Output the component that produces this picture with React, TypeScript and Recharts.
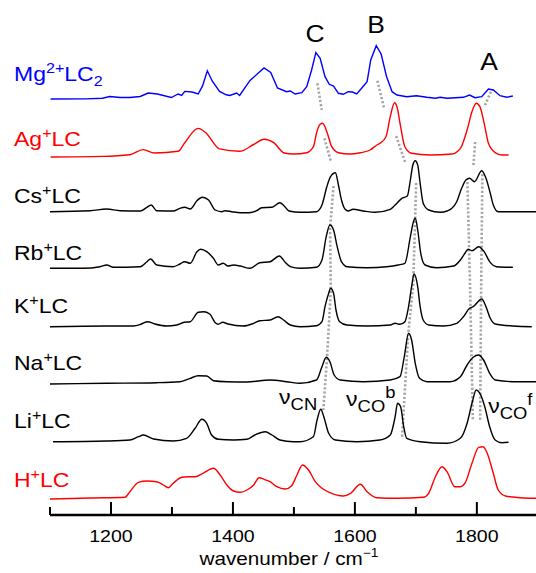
import React from 'react';
import { LineChart, Line, XAxis, YAxis, ReferenceDot } from 'recharts';

const FONT = '"Liberation Sans", Arial, Helvetica, sans-serif';
const STRETCH = 1.15;

type Pt = [number, number];

// spectra: [wavenumber (cm-1), intensity above baseline (arb. units)]
const mgSpectrum: Pt[] = [[1101,-2],[1158,-1.9],[1186,-1.2],[1198,0.5],[1215,-0.5],[1231,-0.5],[1248,0.5],[1261,4],[1276,3],[1299,-0.5],[1310,3],[1316,1.5],[1321,5.6],[1333,5],[1343,3],[1350,10.8],[1358,26.2],[1366,16],[1378,5.6],[1389,2.2],[1395,1.5],[1406,4],[1411,1.5],[1428,16.6],[1451,29],[1462,24.5],[1473,9],[1488,5.3],[1494,6],[1502,3],[1513,4.3],[1521,10.3],[1529,27],[1536,44.3],[1543,38.7],[1551,20.3],[1558,12.7],[1565,11],[1573,3.7],[1581,2.7],[1589,5.3],[1596,5],[1603,3],[1611,8.7],[1620,15.3],[1626,37],[1635,51.3],[1643,43],[1652,20.3],[1661,5.3],[1669,2],[1685,0.3],[1701,1.3],[1718,-0.3],[1732,-1.3],[1740,-0.3],[1751,-1.3],[1778,-0.3],[1788,2],[1797,-0.7],[1808,0.3],[1819,8],[1827,7],[1838,1.3],[1849,-0.3],[1859,1]];
const agSpectrum: Pt[] = [[1101,-3],[1186,-2.4],[1231,-0.7],[1253,4.4],[1271,1],[1310,2.7],[1321,11.3],[1343,25.6],[1355,21.5],[1378,5.1],[1411,2.7],[1434,9.5],[1451,14.7],[1467,11.3],[1484,1],[1499,0],[1521,1.3],[1532,7.3],[1537,20.7],[1543,29.7],[1547,30.7],[1554,22.3],[1562,7.3],[1573,1.3],[1592,0],[1609,1.3],[1625,4],[1636,9],[1641,10.7],[1651,17.3],[1658,37.3],[1665,51.3],[1669,47.3],[1675,27.3],[1682,7.3],[1693,0.7],[1723,-1],[1759,0],[1773,5.7],[1784,24],[1792,42.3],[1799,50.7],[1805,47.3],[1812,30.7],[1819,10.7],[1830,1.3],[1841,-1],[1852,-1]];
const csSpectrum: Pt[] = [[1100,0.3],[1166,1.3],[1193,3],[1215,1.3],[1248,1],[1259,4.7],[1266,7],[1275,1.3],[1302,1],[1313,3.7],[1321,4.7],[1330,3],[1341,11.3],[1350,14.7],[1360,12],[1371,2],[1382,0.3],[1387,1.3],[1398,0.3],[1412,-0.7],[1426,-0.7],[1439,1.3],[1447,4.3],[1464,4.7],[1477,9.3],[1484,6],[1492,1],[1510,-0.3],[1537,0.3],[1546,7],[1554,25.3],[1560,35.3],[1568,39.3],[1573,27],[1578,12],[1584,2.7],[1589,1],[1597,2.7],[1614,1],[1633,-0.3],[1658,2.7],[1666,7],[1677,13.7],[1686,16],[1691,32],[1695,47],[1699,51.3],[1703,47],[1707,28.7],[1712,8.7],[1721,2],[1740,-0.3],[1751,1],[1759,3.7],[1767,10.3],[1775,23.7],[1782,32],[1788,33.7],[1796,30.3],[1808,41.3],[1815,33.7],[1822,18.7],[1827,7],[1835,0.3],[1860,0.3],[1897,0.3]];
const rbSpectrum: Pt[] = [[1100,-0.8],[1155,-0.8],[1182,0.8],[1193,2.5],[1204,0.2],[1248,0.8],[1259,5.8],[1265,8.5],[1275,2.5],[1302,0.8],[1313,3.5],[1321,5.8],[1330,4.2],[1341,15.8],[1347,18.2],[1357,15.8],[1368,9.2],[1376,2.5],[1384,4.2],[1392,1.5],[1401,2.5],[1412,1.5],[1428,-0.8],[1444,4.8],[1461,5.8],[1476,11.5],[1486,5],[1494,0.8],[1510,-0.8],[1537,0.2],[1546,7.5],[1553,30.8],[1559,42.5],[1565,37.5],[1571,20.8],[1578,5.8],[1587,0.8],[1620,-0.2],[1652,0.8],[1671,2.5],[1682,4.2],[1691,30.8],[1696,45.8],[1699,49.2],[1703,37.5],[1708,14.2],[1715,2.5],[1734,-0.2],[1762,1.5],[1773,7.5],[1781,14.8],[1786,18.2],[1792,16.8],[1803,20.8],[1812,15.8],[1821,5.8],[1832,0.8],[1859,0.2]];
const kSpectrum: Pt[] = [[1100,-0.7],[1193,0],[1237,0],[1250,2],[1260,4.3],[1272,2],[1291,0],[1308,1],[1320,3.7],[1330,4.3],[1343,13.7],[1352,14.3],[1362,12],[1371,3.3],[1376,1.7],[1383,3.7],[1392,2],[1417,0],[1434,2.7],[1444,5.3],[1461,6],[1474,9.3],[1483,6],[1494,1],[1510,-0.7],[1537,0.3],[1546,4.3],[1551,19.3],[1557,32.7],[1560,37.7],[1565,32.7],[1569,16],[1575,4.3],[1587,1],[1620,0],[1658,1],[1666,2.7],[1674,1.7],[1682,4.3],[1688,19.3],[1693,39.3],[1697,52],[1703,39.3],[1707,19.3],[1712,6],[1721,1],[1745,0],[1767,2.7],[1778,9.3],[1788,17.7],[1794,19.3],[1808,27],[1815,19.3],[1822,7.7],[1830,2],[1860,0],[1890,-0.7]];
const naSpectrum: Pt[] = [[1100,-2],[1193,-1.3],[1275,-0.7],[1313,0.3],[1330,3.7],[1343,6.3],[1357,6],[1368,1.3],[1390,0.3],[1423,0],[1461,2],[1488,0.3],[1510,-1.3],[1537,2],[1546,15.3],[1553,24.7],[1559,20.3],[1566,7],[1576,2],[1614,0.3],[1658,2],[1674,5.3],[1681,25.3],[1688,48.7],[1693,42],[1699,18.7],[1706,3.7],[1718,0.3],[1756,0.3],[1773,5.3],[1784,17],[1794,24.7],[1803,27],[1811,22],[1821,8.7],[1830,2],[1860,0.3],[1897,0.3]];
const liSpectrum: Pt[] = [[1105,-0.2],[1193,0.5],[1231,1.5],[1245,4.8],[1253,6.5],[1270,2.5],[1302,0.5],[1324,3.2],[1338,13.2],[1349,22.2],[1357,18.2],[1365,6.5],[1376,2.2],[1401,1.5],[1423,2.2],[1436,6.5],[1453,9.8],[1464,6.5],[1477,1.5],[1499,-0.2],[1510,-0.2],[1532,4.8],[1538,21.5],[1544,32.2],[1549,24.8],[1557,8.2],[1568,1.5],[1603,-0.2],[1641,1.5],[1658,6.5],[1666,24.8],[1670,38.2],[1675,34.8],[1680,14.8],[1685,3.2],[1707,-0.2],[1751,-1.8],[1773,3.2],[1784,18.2],[1792,38.2],[1799,51.5],[1805,48.2],[1813,34.8],[1821,14.8],[1830,1.5],[1841,-1.2],[1852,-0.8]];
const hSpectrum: Pt[] = [[1100,-1],[1166,0],[1223,0.7],[1231,6.3],[1245,15.7],[1259,17],[1275,16.3],[1286,13],[1294,10.3],[1302,14.7],[1316,20.7],[1327,21.3],[1338,21.3],[1351,24.7],[1368,29.7],[1379,23],[1390,13],[1401,7],[1412,5.7],[1423,8],[1434,13],[1443,20.3],[1451,18.7],[1461,16.3],[1472,11.3],[1486,9],[1496,12],[1505,23],[1514,33],[1524,28],[1535,16.3],[1546,9.7],[1559,5.3],[1581,2],[1593,4.7],[1609,13.7],[1620,6.3],[1636,0.3],[1669,-0.3],[1712,0.7],[1721,4.7],[1732,21.3],[1743,31.3],[1751,26.3],[1764,11.3],[1773,11.3],[1781,15.3],[1792,34.7],[1803,50.7],[1810,51.3],[1816,46.3],[1827,24.7],[1835,8],[1847,2],[1871,0.3],[1897,-0.3]];

const spectra: Pt[][] = [mgSpectrum, agSpectrum, csSpectrum, rbSpectrum, kSpectrum, naSpectrum, liSpectrum, hSpectrum];
const seriesKeys = ['mg', 'ag', 'cs', 'rb', 'k', 'na', 'li', 'h'];
const seriesColors = ['#0000ff', '#ff0000', '#000000', '#000000', '#000000', '#000000', '#000000', '#ff0000'];
const seriesOffsets = [418, 361, 303, 247.5, 189, 133, 73.5, 17];

// sample labels (vertical level in data units)
const labelLevels = [434, 369, 312, 255, 202, 145, 87, 28];
const labelMain = ['Mg', 'Ag', 'Cs', 'Rb', 'K', 'Na', 'Li', 'H'];
const labelSup = ['2+', '+', '+', '+', '+', '+', '+', '+'];
const labelRest = ['LC', 'LC', 'LC', 'LC', 'LC', 'LC', 'LC', 'LC'];
const labelSub = ['2', '', '', '', '', '', '', ''];

// dotted peak-correlation guides: [wavenumber, level]
const guideLines: Pt[][] = [
  [[1538.5, 431.7], [1545.7, 405]],
  [[1550, 376.7], [1561, 353]],
  [[1565, 329], [1559.3, 287], [1560.5, 225], [1554.4, 158], [1548.2, 105]],
  [[1636.9, 434.3], [1647.9, 406.7]],
  [[1667.6, 379], [1682.4, 353]],
  [[1700.4, 332], [1698.7, 293], [1695.5, 230], [1687.3, 180], [1677.4, 78]],
  [[1822.9, 423.3], [1811.9, 407.7]],
  [[1797.2, 373], [1794.4, 350]],
  [[1784.5, 333], [1789, 225], [1793.4, 95]],
  [[1809.1, 341], [1807, 225], [1805.4, 95]],
];

const xTicks = [1100, 1200, 1300, 1400, 1500, 1600, 1700, 1800];
const xMajor = [1200, 1400, 1600, 1800];

const peakLetters = ['C', 'B', 'A'];
const peakLetterPos: Pt[] = [[1534.7, 473.3], [1634.8, 481.7], [1820.1, 445]];
const modeSub = ['CN', 'CO', 'CO'];
const modeSup = ['', 'b', 'f'];
const modePos: Pt[] = [[1475.7, 111], [1585.6, 109], [1818.5, 102]];

function SText({ x, y, anchor = 'start', size, fill = '#000', children }: any) {
  return (
    <g transform={`translate(${x} ${y}) scale(${STRETCH} 1)`}>
      <text x={0} y={0} textAnchor={anchor} fontSize={size} fill={fill} fontFamily={FONT}>
        {children}
      </text>
    </g>
  );
}

function XTick(props: any) {
  const { x, y, payload } = props;
  const major = xMajor.includes(payload.value);
  return (
    <g>
      <line x1={x} x2={x} y1={y} y2={y - (major ? 13 : 8)} stroke="#000" strokeWidth={2} />
      {major && (
        <SText x={x} y={y + 27} anchor="middle" size={17}>
          {String(payload.value)}
        </SText>
      )}
    </g>
  );
}

function YTick(props: any) {
  const { x, y, payload } = props;
  const i = labelLevels.indexOf(payload.value);
  if (i < 0) return <g />;
  return (
    <SText x={x - 36} y={y} size={20} fill={seriesColors[i]}>
      <tspan>{labelMain[i]}</tspan>
      <tspan fontSize={14} dy={-8}>{labelSup[i]}</tspan>
      <tspan dy={8}>{labelRest[i]}</tspan>
      {labelSub[i] ? <tspan fontSize={14} dy={5}>{labelSub[i]}</tspan> : null}
    </SText>
  );
}

function AxisTitle(props: any) {
  const vb = props.viewBox || { x: 50, y: 515, width: 486, height: 58 };
  const cx = vb.x + vb.width / 2;
  return (
    <SText x={cx - 4} y={vb.y + 50} anchor="middle" size={18}>
      <tspan>wavenumber / cm</tspan>
      <tspan fontSize={12} dy={-8}>−1</tspan>
    </SText>
  );
}

export default function App() {
  return (
    <div style={{ position: 'absolute', left: 0, top: 0, width: 536, height: 573, background: '#fff' }}>
      <LineChart width={536} height={573} margin={{ top: 10, right: 0, bottom: 0, left: 0 }}>
        <XAxis
          dataKey="w"
          type="number"
          domain={[1100, 1897]}
          allowDataOverflow
          ticks={xTicks}
          interval={0}
          tickSize={0}
          tickMargin={0}
          tickLine={false}
          axisLine={{ stroke: '#000', strokeWidth: 2.5 }}
          height={58}
          tick={<XTick />}
          label={(p: any) => <AxisTitle {...p} />}
        />
        <YAxis
          type="number"
          domain={[0, 505]}
          allowDataOverflow
          ticks={labelLevels}
          interval={0}
          width={50}
          axisLine={false}
          tickLine={false}
          tickSize={0}
          tickMargin={0}
          tick={<YTick />}
        />
        {guideLines.map((g, i) => (
          <Line
            key={'g' + i}
            data={g.map(([w, v]) => ({ w, ['g' + i]: v }))}
            dataKey={'g' + i}
            type="linear"
            stroke="#a6a6a6"
            strokeWidth={2.6}
            strokeDasharray="2.2 2"
            dot={false}
            activeDot={false}
            isAnimationActive={false}
          />
        ))}
        {spectra.map((s, i) => (
          <Line
            key={seriesKeys[i]}
            data={s.map(([w, r]) => ({ w, [seriesKeys[i]]: r + seriesOffsets[i] }))}
            dataKey={seriesKeys[i]}
            type={i === 0 ? 'linear' : 'monotone'}
            stroke={seriesColors[i]}
            strokeWidth={1.4}
            dot={false}
            activeDot={false}
            isAnimationActive={false}
          />
        ))}
        {peakLetters.map((t, i) => (
          <ReferenceDot
            key={'p' + i}
            x={peakLetterPos[i][0]}
            y={peakLetterPos[i][1]}
            r={0}
            fill="none"
            stroke="none"
            ifOverflow="visible"
            label={(p: any) => (
              <SText x={p.viewBox.x} y={p.viewBox.y} anchor="middle" size={23}>
                {t}
              </SText>
            )}
          />
        ))}
        {modeSub.map((t, i) => (
          <ReferenceDot
            key={'m' + i}
            x={modePos[i][0]}
            y={modePos[i][1]}
            r={0}
            fill="none"
            stroke="none"
            ifOverflow="visible"
            label={(p: any) => (
              <SText x={p.viewBox.x} y={p.viewBox.y} size={20}>
                <tspan>ν</tspan>
                <tspan fontSize={16} dy={6}>{t}</tspan>
                {modeSup[i] ? <tspan fontSize={16} dy={-14}>{modeSup[i]}</tspan> : null}
              </SText>
            )}
          />
        ))}
      </LineChart>
    </div>
  );
}
